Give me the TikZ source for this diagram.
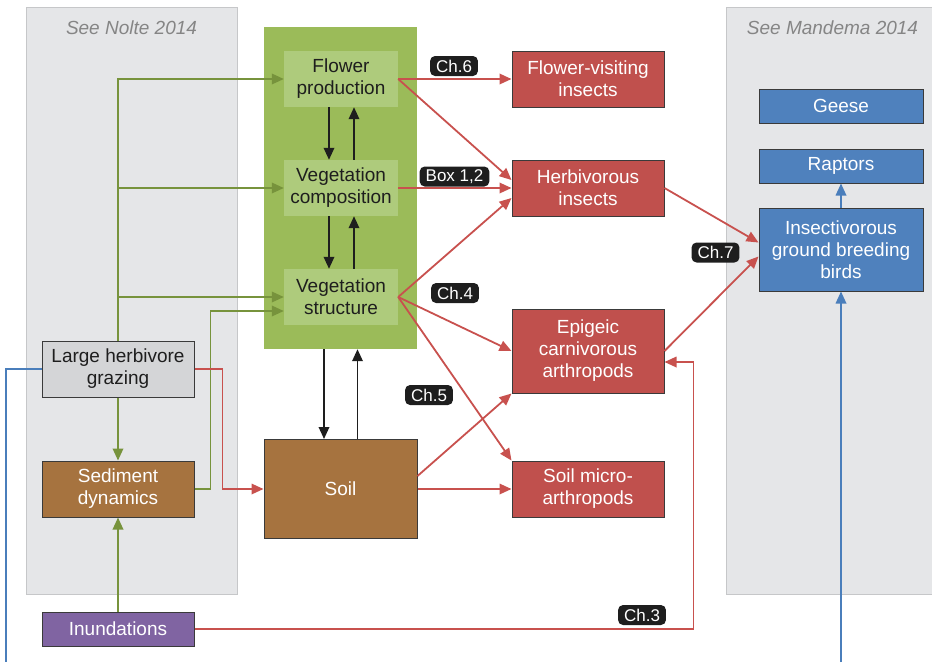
\documentclass[tikz,border=0pt]{standalone}
\usepackage{fontspec}
\setmainfont{Liberation Sans}
\usetikzlibrary{arrows.meta}
\definecolor{panelgrey}{HTML}{E5E6E8}
\definecolor{panelline}{HTML}{C6C7C9}
\definecolor{titlegrey}{HTML}{858585}
\definecolor{vegouter}{HTML}{9BBB59}
\definecolor{veginner}{HTML}{AECB7C}
\definecolor{greenline}{HTML}{77933C}
\definecolor{redfill}{HTML}{C0504D}
\definecolor{redline}{HTML}{C8514E}
\definecolor{bluefill}{HTML}{4F81BD}
\definecolor{blueline}{HTML}{4A7EBB}
\definecolor{soilfill}{HTML}{A6733F}
\definecolor{purplefill}{HTML}{8064A2}
\definecolor{grazefill}{HTML}{D4D5D7}
\definecolor{boxline}{HTML}{3A3A3A}
\definecolor{textdark}{HTML}{1E1E1E}
\definecolor{badgefill}{HTML}{1E1E1E}
\begin{document}
\begin{tikzpicture}[x=1pt, y=-1pt]
\tikzset{panel/.style={draw=panelline, fill=panelgrey, line width=1pt}}
\tikzset{paneltitle/.style={text=titlegrey, font=\fontsize{19pt}{22pt}\selectfont\itshape}}
\tikzset{box/.style={draw=boxline, line width=1pt, inner sep=0pt, align=center, text=white, font=\fontsize{19pt}{22pt}\selectfont}}
\tikzset{redbox/.style={box, fill=redfill, minimum width=152pt}}
\tikzset{bluebox/.style={box, fill=bluefill, minimum width=164pt}}
\tikzset{leftbox/.style={box, minimum width=152pt}}
\tikzset{vegbox/.style={inner sep=0pt, fill=veginner, minimum width=114pt, minimum height=56pt, align=center, text=textdark, font=\fontsize{19pt}{22pt}\selectfont}}
\tikzset{badge/.style={fill=badgefill, text=white, rounded corners=5pt, inner xsep=6pt, inner ysep=0pt, minimum height=20pt, font=\fontsize{17pt}{17pt}\selectfont}}
\tikzset{tip/.style={-{Triangle[length=12pt, width=10.5pt]}}}
\tikzset{greenarrow/.style={tip, draw=greenline, line width=1.8pt}}
\tikzset{redarrow/.style={tip, draw=redline, line width=1.8pt}}
\tikzset{blackarrow/.style={tip, draw=textdark, line width=1.8pt}}
\tikzset{bluearrow/.style={tip, draw=blueline, line width=1.8pt}}
\useasboundingbox (0,0) rectangle (932,662);
% background panels
\draw[panel] (26,7) rectangle (237,594);
\draw[panel] (726,7) rectangle (940,594);
\node (nolte)   [paneltitle] at (131.5, 28) {See Nolte 2014};
\node (mandema) [paneltitle] at (832.5, 28) {See Mandema 2014};
% vegetation
\node (veg) [fill=vegouter, minimum width=153pt, minimum height=322pt, inner sep=0pt] at (340.5, 188) {};
\node (fp) [vegbox] at (341,  79) {Flower\\production};
\node (vc) [vegbox] at (341, 188) {Vegetation\\composition};
\node (vs) [vegbox] at (341, 297) {Vegetation\\structure};
\node (soil) [box, fill=soilfill, minimum width=153pt, minimum height=99pt] at (340.5, 489) {Soil};
% drivers
\node (lhg) [leftbox, fill=grazefill, text=textdark, minimum height=56pt] at (118, 369) {Large herbivore\\grazing};
\node (sd)  [leftbox, fill=soilfill, minimum height=56pt]                 at (118, 489) {Sediment\\dynamics};
\node (inu) [leftbox, fill=purplefill, minimum height=34pt]               at (118, 629) {Inundations};
% invertebrates
\node (fv) [redbox, minimum height=56pt] at (588,  79) {Flower-visiting\\insects};
\node (hi) [redbox, minimum height=56pt] at (588, 188) {Herbivorous\\insects};
\node (ep) [redbox, minimum height=84pt] at (588, 351) {Epigeic\\carnivorous\\arthropods};
\node (sm) [redbox, minimum height=56pt] at (588, 489) {Soil micro-\\arthropods};
% birds
\node (geese) [bluebox, minimum height=34pt] at (841, 106) {Geese};
\node (rap)   [bluebox, minimum height=34pt] at (841, 166) {Raptors};
\node (ib)    [bluebox, minimum height=83pt] at (841, 249.5) {Insectivorous\\ground breeding\\birds};
\coordinate (bluein)  at (841, 662);
\coordinate (blueout) at (6, 662);
% grazing and sediment links
\draw[greenarrow] (lhg.north) |- (fp.west);
\draw[greenarrow] (lhg.north) |- (vc.west);
\draw[greenarrow] (lhg.north) |- (vs.west);
\draw[greenarrow] (lhg.south) -- (sd.north);
\draw[greenarrow] (sd.east) -- ++(16,0) |- ([yshift=-14pt]vs.west);
\draw[greenarrow] (inu.north) -- (sd.south);
\draw[redarrow] (lhg.east) -- ++(28,0) |- (soil.west);
\draw[blueline, line width=1.8pt] (lhg.west) -| (blueout);
% within vegetation
\draw[blackarrow] ([xshift=-12pt]fp.south) -- ([xshift=-12pt]vc.north);
\draw[blackarrow] ([xshift=13pt]vc.north) -- ([xshift=13pt]fp.south);
\draw[blackarrow] ([xshift=-12pt]vc.south) -- ([xshift=-12pt]vs.north);
\draw[blackarrow] ([xshift=13pt]vs.north) -- ([xshift=13pt]vc.south);
\draw[blackarrow] ([xshift=-16.5pt]veg.south) -- ([xshift=-16.5pt]soil.north);
\draw[blackarrow] ([xshift=17pt]soil.north) -- ([xshift=17pt]veg.south);
% effects on invertebrates
\draw[redarrow] (fp.east) -- (fv.west);
\draw[redarrow] (fp.east) -- ([yshift=8pt]hi.west);
\draw[redarrow] (vc.east) -- (hi.west);
\draw[redarrow] (vs.east) -- ([yshift=-10pt]hi.west);
\draw[redarrow] (vs.east) -- (ep.west);
\draw[redarrow] (vs.east) -- (sm.north west);
\draw[redarrow] ([yshift=13pt]soil.east) -- (ep.south west);
\draw[redarrow] (soil.east) -- (sm.west);
\draw[redarrow] (inu.east) -- ++(499,0) |- ([yshift=-11pt]ep.east);
% effects on birds
\draw[redarrow] (hi.east) -- ([yshift=7pt]ib.west);
\draw[redarrow] (ep.east) -- ([yshift=-7pt]ib.west);
\draw[bluearrow] (ib.north) -- (rap.south);
\draw[bluearrow] (bluein) -- (ib.south);
% chapter labels
\node (ch6) [badge] at (454, 66) {Ch.6};
\node (box12) [badge] at (454.5, 176.5) {Box 1,2};
\node (ch4) [badge] at (455, 293) {Ch.4};
\node (ch5) [badge] at (429, 395) {Ch.5};
\node (ch7) [badge] at (715.5, 252.5) {Ch.7};
\node (ch3) [badge] at (642, 615) {Ch.3};
\end{tikzpicture}
\end{document}
